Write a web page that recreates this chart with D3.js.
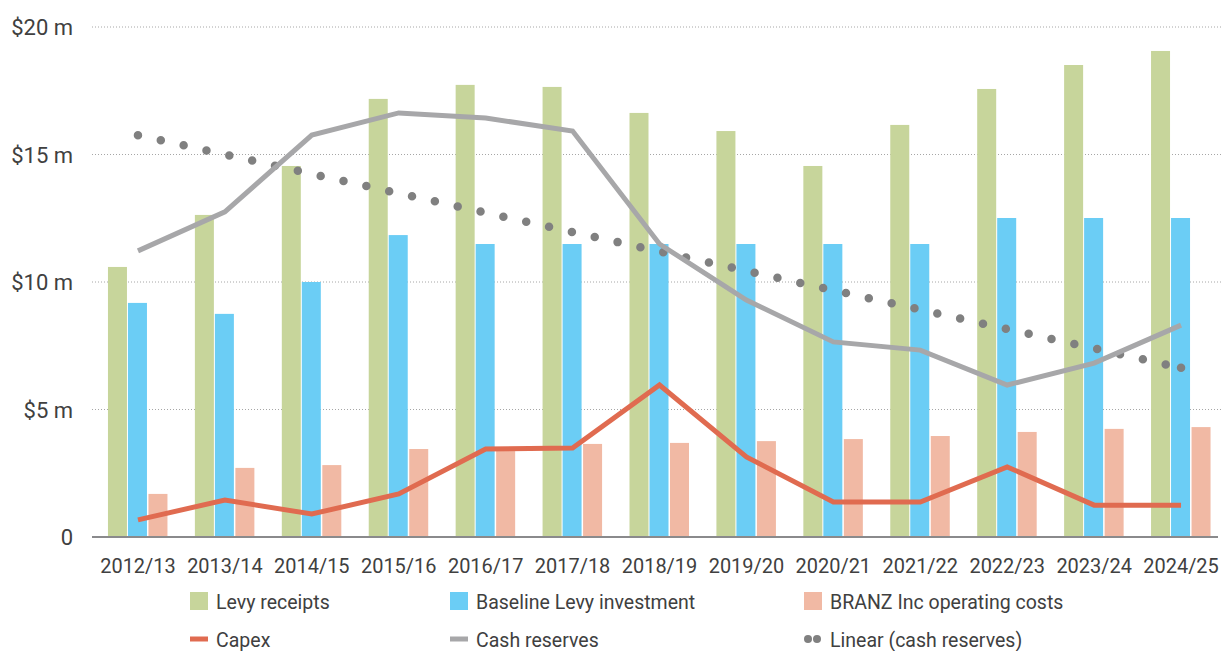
<!DOCTYPE html>
<html>
<head>
<meta charset="utf-8">
<script src="https://cdn.jsdelivr.net/npm/d3@7"></script>
<style>
    body { margin: 0; background: #fff; }
    text { font-family: Roboto, "Noto Sans", sans-serif; fill: #404040; }
</style>
</head>
<body>
<div id="chart"></div>
<script>
// Define variables
// ============================================================================
const years = ["2012/13", "2013/14", "2014/15", "2015/16", "2016/17", "2017/18", "2018/19",
    "2019/20", "2020/21", "2021/22", "2022/23", "2023/24", "2024/25"];
const levy_receipts = [10.59, 12.63, 14.55, 17.18, 17.73, 17.65, 16.63, 15.92, 14.55, 16.16, 17.57, 18.51, 19.06];
const baseline_investment = [9.18, 8.75, 10.0, 11.84, 11.49, 11.49, 11.49, 11.49, 11.49, 11.49, 12.51, 12.51, 12.51];
const operating_costs = [1.69, 2.71, 2.82, 3.45, 3.45, 3.65, 3.69, 3.76, 3.84, 3.96, 4.12, 4.24, 4.31];
const capex = [0.67, 1.45, 0.9, 1.69, 3.45, 3.49, 5.96, 3.14, 1.37, 1.37, 2.75, 1.25, 1.25];
const cash_reserves = [11.22, 12.75, 15.76, 16.63, 16.43, 15.92, 11.49, 9.29, 7.65, 7.33, 5.96, 6.82, 8.31];
const y_ticks = [0, 5, 10, 15, 20];
const y_tick_labels = ["0", "$5 m", "$10 m", "$15 m", "$20 m"];

const W = 1222, H = 651,
    margin = {top: 27, left: 94.5, right: 1224.5, bottom: 537};

const colors = {
    levy: "#c7d59b",
    base: "#6bcdf5",
    ops: "#f1b9a4",
    capex: "#e06b50",
    cash: "#a7a7a9",
    trend: "#808080"
};

// Linear trend of cash reserves (least squares, as the spreadsheet does)
function linear_trend(vals) {
    const n = vals.length;
    const mx = (n - 1) / 2, my = d3.mean(vals);
    let sxy = 0, sxx = 0;
    vals.forEach((v, i) => { sxy += (i - mx) * (v - my); sxx += (i - mx) * (i - mx); });
    const b = sxy / sxx;
    return vals.map((v, i) => my + b * (i - mx));
}
const trend = linear_trend(cash_reserves);

// Plot
// ============================================================================
const svg = d3.select("#chart").append("svg")
    .attr("width", W).attr("height", H);

const x = d3.scaleBand().domain(years).range([margin.left, margin.right]);
const y = d3.scaleLinear().domain([0, 20]).range([margin.bottom, margin.top]);
const cx = d => x(d) + x.bandwidth() / 2;

// Grid lines
svg.append("g").selectAll("line")
    .data(y_ticks.filter(t => t > 0))
    .join("line")
        .attr("x1", 92).attr("x2", 1222)
        .attr("y1", d => y(d)).attr("y2", d => y(d))
        .attr("stroke", "#a6a6a6")
        .attr("stroke-width", 1)
        .attr("stroke-dasharray", "1 2");

// Y axis labels
const yAxis = d3.axisLeft(y).tickValues(y_ticks)
    .tickFormat((d, i) => y_tick_labels[i]).tickSize(0).tickPadding(0);
svg.append("g")
    .attr("transform", "translate(73,0)")
    .call(yAxis)
    .call(g => g.select(".domain").remove())
    .call(g => g.selectAll("text")
        .attr("font-size", 22).attr("font-family", null).attr("fill", "#404040")
        .attr("dy", "0.36em"));

// Bars
const series = [
    {vals: levy_receipts, color: colors.levy, off: -30},
    {vals: baseline_investment, color: colors.base, off: -10},
    {vals: operating_costs, color: colors.ops, off: 10.5}
];
series.forEach(s => {
    svg.append("g").selectAll("rect")
        .data(years)
        .join("rect")
            .attr("x", d => cx(d) + s.off)
            .attr("width", 19)
            .attr("y", (d, i) => y(s.vals[i]))
            .attr("height", (d, i) => y(0) - y(s.vals[i]))
            .attr("fill", s.color);
});

// Baseline axis
svg.append("line")
    .attr("x1", 92).attr("x2", 1218)
    .attr("y1", y(0)).attr("y2", y(0))
    .attr("stroke", "#8a8a8c").attr("stroke-width", 2);

// X axis labels (narrowed a little, the original face is condensed)
const xAxis = d3.axisBottom(x).tickSize(0).tickPadding(0);
svg.append("g")
    .attr("transform", "translate(0,565)")
    .call(xAxis)
    .call(g => g.select(".domain").remove())
    .call(g => g.selectAll("text")
        .attr("font-size", 21).attr("font-family", null).attr("fill", "#404040")
        .attr("dy", "0.36em")
        .attr("transform", "scale(0.95,1)"));

// Lines
const line = d3.line().x((d, i) => cx(years[i])).y(d => y(d));

svg.append("path")
    .datum(trend)
    .attr("d", line)
    .attr("fill", "none")
    .attr("stroke", colors.trend)
    .attr("stroke-width", 8.5)
    .attr("stroke-linecap", "round")
    .attr("stroke-dasharray", "0 23.4");

svg.append("circle")
    .attr("cx", cx(years[years.length - 1]))
    .attr("cy", y(trend[trend.length - 1]))
    .attr("r", 4.25)
    .attr("fill", colors.trend);

svg.append("path")
    .datum(cash_reserves)
    .attr("d", line)
    .attr("fill", "none")
    .attr("stroke", colors.cash)
    .attr("stroke-width", 5);

svg.append("path")
    .datum(capex)
    .attr("d", line)
    .attr("fill", "none")
    .attr("stroke", colors.capex)
    .attr("stroke-width", 5);

// Legend
const legend = svg.append("g");
const items = [
    {label: "Levy receipts", type: "rect", color: colors.levy, x: 190, y: 601},
    {label: "Baseline Levy investment", type: "rect", color: colors.base, x: 450, y: 601},
    {label: "BRANZ Inc operating costs", type: "rect", color: colors.ops, x: 804, y: 601},
    {label: "Capex", type: "line", color: colors.capex, x: 190, y: 639},
    {label: "Cash reserves", type: "line", color: colors.cash, x: 450, y: 639},
    {label: "Linear (cash reserves)", type: "dots", color: colors.trend, x: 804, y: 639}
];
items.forEach(it => {
    if (it.type === "rect") {
        legend.append("rect")
            .attr("x", it.x).attr("y", it.y - 9)
            .attr("width", 18).attr("height", 18)
            .attr("fill", it.color);
    } else if (it.type === "line") {
        legend.append("line")
            .attr("x1", it.x).attr("x2", it.x + 18)
            .attr("y1", it.y).attr("y2", it.y)
            .attr("stroke", it.color).attr("stroke-width", 5);
    } else {
        [it.x + 4, it.x + 13].forEach(px => {
            legend.append("circle")
                .attr("cx", px).attr("cy", it.y).attr("r", 4)
                .attr("fill", it.color);
        });
    }
    legend.append("text")
        .attr("transform", "translate(" + (it.x + 26) + "," + it.y + ") scale(0.93,1)")
        .attr("dy", "0.36em")
        .attr("font-size", 21)
        .text(it.label);
});
</script>
</body>
</html>
